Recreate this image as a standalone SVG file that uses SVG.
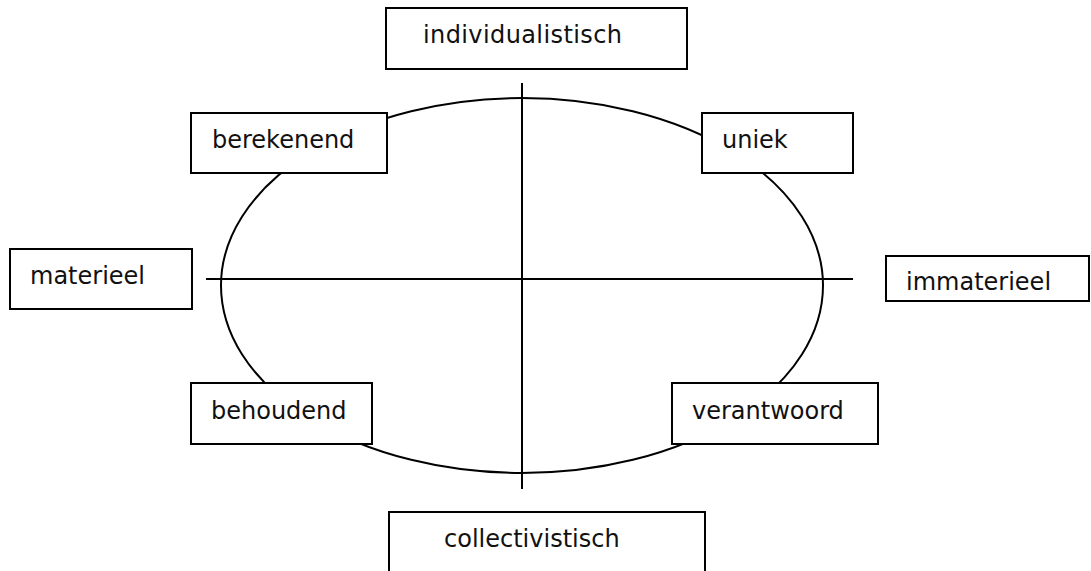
<svg xmlns="http://www.w3.org/2000/svg" width="1091" height="571" viewBox="0 0 1091 571">
<style>
.box{fill:#fff;stroke:#000;stroke-width:2}
.ln{fill:none;stroke:#000;stroke-width:2}
.t{font-family:"DejaVu Sans","Liberation Sans",sans-serif;font-size:24px;fill:#111}
</style>
<rect width="1091" height="571" fill="#fff"/>
<g id="connectors">
<ellipse class="ln" cx="522" cy="285.5" rx="301" ry="187.5"/>
<line class="ln" x1="522" y1="83" x2="522" y2="489"/>
<line class="ln" x1="206" y1="279" x2="853" y2="279"/>
</g>
<g id="individualistisch"><rect class="box" x="386" y="8" width="301" height="61"/><text class="t" x="423" y="43" textLength="199" lengthAdjust="spacing">individualistisch</text></g>
<g id="berekenend"><rect class="box" x="191" y="113" width="196" height="60"/><text class="t" x="212" y="148">berekenend</text></g>
<g id="uniek"><rect class="box" x="702" y="113" width="151" height="60"/><text class="t" x="722" y="148">uniek</text></g>
<g id="materieel"><rect class="box" x="10" y="249" width="182" height="60"/><text class="t" x="30" y="284">materieel</text></g>
<g id="immaterieel"><rect class="box" x="886" y="256" width="203" height="45"/><text class="t" x="906" y="290">immaterieel</text></g>
<g id="behoudend"><rect class="box" x="191" y="383" width="181" height="61"/><text class="t" x="211" y="419">behoudend</text></g>
<g id="verantwoord"><rect class="box" x="672" y="383" width="206" height="61"/><text class="t" x="692" y="419">verantwoord</text></g>
<g id="collectivistisch"><rect class="box" x="389" y="512" width="316" height="70"/><text class="t" x="444" y="547">collectivistisch</text></g>
</svg>
